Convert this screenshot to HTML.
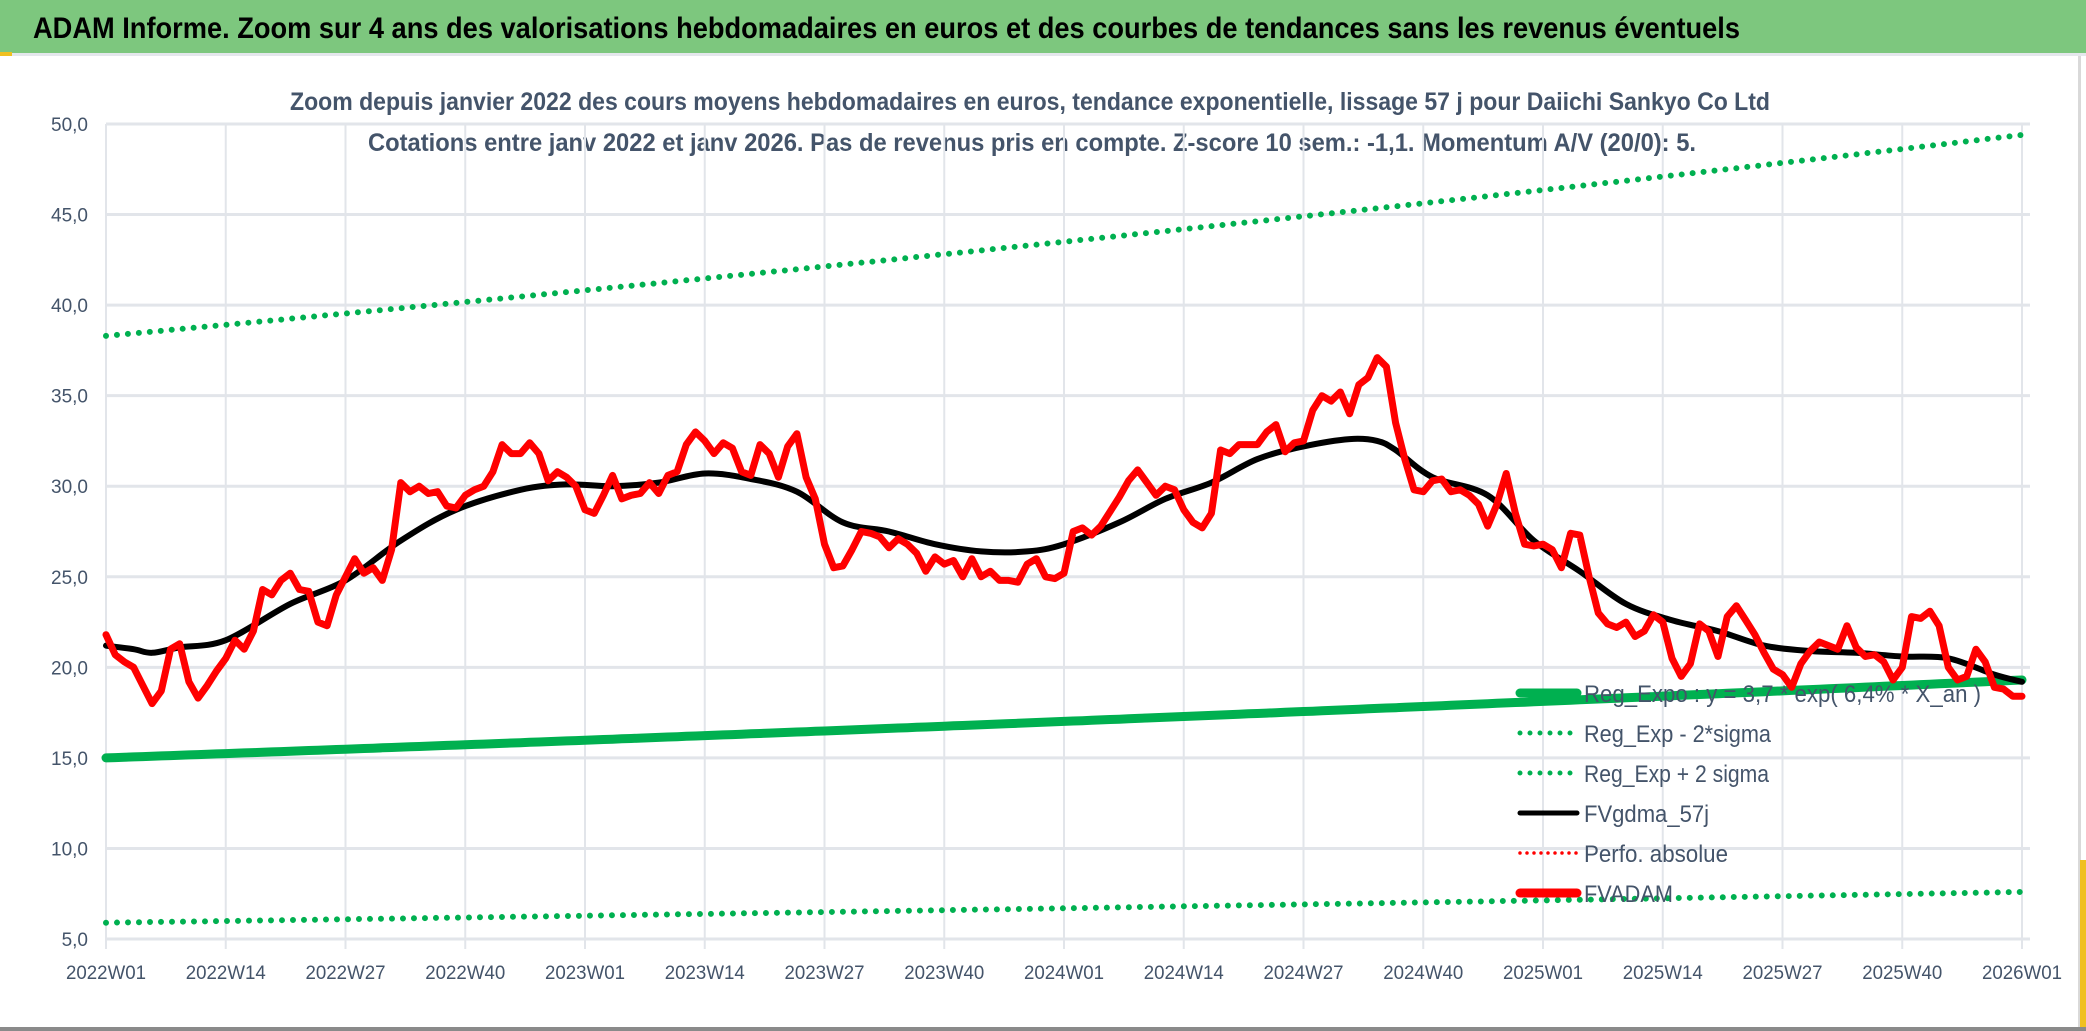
<!DOCTYPE html>
<html><head><meta charset="utf-8"><style>
html,body{margin:0;padding:0;background:#fff;}
svg{display:block;font-family:"Liberation Sans",sans-serif;}
</style></head><body>
<svg id="chart" width="2086" height="1031" viewBox="0 0 2086 1031" xmlns="http://www.w3.org/2000/svg">
<rect x="0" y="0" width="2086" height="53" fill="#7dc77e"/>
<rect x="0" y="53" width="2086" height="3" fill="#e4e7ec"/>
<rect x="0" y="52" width="12" height="4" fill="#f0c020"/>
<text x="33" y="38" font-size="30" font-weight="bold" fill="#000" textLength="1707" lengthAdjust="spacingAndGlyphs">ADAM Informe. Zoom sur 4 ans des valorisations hebdomadaires en euros et des courbes de tendances sans les revenus éventuels</text>
<text x="290" y="110" font-size="25" font-weight="bold" fill="#44546a" textLength="1480" lengthAdjust="spacingAndGlyphs">Zoom depuis janvier 2022 des cours moyens hebdomadaires en euros, tendance exponentielle, lissage 57 j pour Daiichi Sankyo Co Ltd</text>
<text x="368" y="151" font-size="25" font-weight="bold" fill="#44546a" textLength="1328" lengthAdjust="spacingAndGlyphs">Cotations entre janv 2022 et janv 2026. Pas de revenus pris en compte. Z-score 10 sem.: -1,1. Momentum A/V (20/0): 5.</text>
<g id="grid"></g><g id="axes"></g><g id="series"></g><g id="legend"></g>
<rect x="0" y="1027" width="2086" height="4" fill="#8a8a8a"/>
<rect x="2078" y="56" width="3" height="971" fill="#d9d9d9"/>
<rect x="2080" y="860" width="6" height="167" fill="#f0c020"/>
</svg>
<script>
const yTicks=[5,10,15,20,25,30,35,40,45,50];
const yTickLabels=["5,0","10,0","15,0","20,0","25,0","30,0","35,0","40,0","45,0","50,0"];
const xTickWeeks=[0,13,26,39,52,65,78,91,104,117,130,143,156,169,182,195,208];
const xTickLabels=["2022W01","2022W14","2022W27","2022W40","2023W01","2023W14","2023W27","2023W40","2024W01","2024W14","2024W27","2024W40","2025W01","2025W14","2025W27","2025W40","2026W01"];
const fvadam=[21.8,20.7,20.3,20.0,19.0,18.0,18.7,21.0,21.3,19.2,18.3,19.0,19.8,20.5,21.5,21.0,22.0,24.3,24.0,24.8,25.2,24.3,24.2,22.5,22.3,24.0,25.0,26.0,25.2,25.5,24.8,26.5,30.2,29.7,30.0,29.6,29.7,28.9,28.8,29.5,29.8,30.0,30.8,32.3,31.8,31.8,32.4,31.8,30.3,30.8,30.5,30.0,28.7,28.5,29.5,30.6,29.3,29.5,29.6,30.2,29.6,30.6,30.8,32.3,33.0,32.5,31.8,32.4,32.1,30.8,30.6,32.3,31.8,30.5,32.2,32.9,30.5,29.3,26.8,25.5,25.6,26.5,27.5,27.4,27.2,26.6,27.1,26.8,26.3,25.3,26.1,25.7,25.9,25.0,26.0,25.0,25.3,24.8,24.8,24.7,25.7,26.0,25.0,24.9,25.2,27.5,27.7,27.3,27.8,28.6,29.4,30.3,30.9,30.2,29.5,30.0,29.8,28.7,28.0,27.7,28.5,32.0,31.8,32.3,32.3,32.3,33.0,33.4,31.9,32.4,32.5,34.2,35.0,34.7,35.2,34.0,35.6,36.0,37.1,36.6,33.5,31.5,29.8,29.7,30.3,30.4,29.7,29.8,29.5,29.0,27.8,29.0,30.7,28.5,26.8,26.7,26.8,26.5,25.5,27.4,27.3,25.0,23.0,22.4,22.2,22.5,21.7,22.0,22.9,22.5,20.5,19.5,20.2,22.4,22.0,20.6,22.8,23.4,22.6,21.8,20.8,19.9,19.6,18.9,20.2,20.9,21.4,21.2,21.0,22.3,21.1,20.6,20.7,20.3,19.3,20.0,22.8,22.7,23.1,22.3,20.0,19.3,19.5,21.0,20.3,18.9,18.8,18.4,18.4];
const maWeeks=[0,3,5,8,13,20,26,32,38,45,50,55,60,65,70,75,80,85,90,95,100,104,110,115,120,125,130,135,138,140,144,150,155,160,165,170,175,180,185,190,195,200,205,208];
const maValues=[21.2,21.0,20.8,21.1,21.5,23.5,24.8,27.0,28.7,29.8,30.1,30.0,30.2,30.7,30.4,29.7,28.0,27.5,26.8,26.4,26.4,26.8,28.0,29.3,30.2,31.5,32.2,32.6,32.5,32.0,30.5,29.5,27.0,25.3,23.5,22.6,22.0,21.2,20.9,20.8,20.6,20.5,19.6,19.2];
const bandNames=["reg-expo","reg-exp-minus-2sigma","reg-exp-plus-2sigma"];
const bandStart=[15.0,5.9,38.3];
const bandEnd=[19.3,7.6,49.4];
const nWeeks=208;

const NS="http://www.w3.org/2000/svg";
const X0=106,X1=2022,Y50=124,Y5=939;
function xs(w){return X0+(X1-X0)*w/nWeeks;}
function ys(v){return Y5-(v-5)*(Y5-Y50)/45;}
function mk(tag,attrs,parent){const e=document.createElementNS(NS,tag);for(const k in attrs)e.setAttribute(k,attrs[k]);parent.appendChild(e);return e;}
const grid=document.getElementById('grid'),axes=document.getElementById('axes'),series=document.getElementById('series'),legend=document.getElementById('legend');
yTicks.forEach((v,i)=>{
  const l=mk('line',{x1:X0,x2:X1+8,y1:ys(v),y2:ys(v),stroke:'#e2e5ea','stroke-width':3},grid);
  
  
  const t=mk('text',{x:88,y:ys(v)+7,'text-anchor':'end','font-size':19,fill:'#44546a'},axes);
  t.textContent=yTickLabels[i];
  
  
});
xTickWeeks.forEach((w,i)=>{
  const l=mk('line',{x1:xs(w),x2:xs(w),y1:Y50,y2:Y5+10,stroke:'#e2e5ea','stroke-width':2},grid);
  
  
  const t=mk('text',{x:xs(w),y:Y5+40,'text-anchor':'middle','font-size':19,fill:'#44546a',textLength:80,lengthAdjust:'spacingAndGlyphs'},axes);
  t.textContent=xTickLabels[i];
  
  
});
function bandPath(i){let d='';for(let w=0;w<=nWeeks;w++){const v=bandStart[i]*Math.pow(bandEnd[i]/bandStart[i],w/nWeeks);d+=(w?'L':'M')+xs(w).toFixed(1)+' '+ys(v).toFixed(1);}return d;}
bandNames.forEach((n,i)=>{
  const solid=i===0;
  const p=mk('path',{d:bandPath(i),fill:'none',stroke:'#00b050','stroke-width':solid?9:6,'stroke-linecap':'round','stroke-dasharray':solid?'none':'0 11'},series);
  
  
});
function smooth(pts){let d='M'+pts[0][0].toFixed(1)+' '+pts[0][1].toFixed(1);
  for(let i=0;i<pts.length-1;i++){const p0=pts[Math.max(0,i-1)],p1=pts[i],p2=pts[i+1],p3=pts[Math.min(pts.length-1,i+2)];
    const c1x=p1[0]+(p2[0]-p0[0])/6,c1y=p1[1]+(p2[1]-p0[1])/6,c2x=p2[0]-(p3[0]-p1[0])/6,c2y=p2[1]-(p3[1]-p1[1])/6;
    d+='C'+c1x.toFixed(1)+' '+c1y.toFixed(1)+' '+c2x.toFixed(1)+' '+c2y.toFixed(1)+' '+p2[0].toFixed(1)+' '+p2[1].toFixed(1);}
  return d;}
const maPts=maWeeks.map((w,i)=>[xs(w),ys(maValues[i])]);
const ma=mk('path',{d:smooth(maPts),fill:'none',stroke:'#000','stroke-width':6,'stroke-linejoin':'round','stroke-linecap':'round'},series);


let dr='';fvadam.forEach((v,i)=>{dr+=(i?'L':'M')+xs(i).toFixed(1)+' '+ys(v).toFixed(1);});
const red=mk('path',{d:dr,fill:'none',stroke:'#ff0000','stroke-width':7,'stroke-linejoin':'round','stroke-linecap':'round'},series);


const legItems=[["Reg_Expo : y = 3,7 * exp( 6,4% *  X_an )",'#00b050',9,'none',397],["Reg_Exp - 2*sigma",'#00b050',5,'0 10',187],["Reg_Exp + 2 sigma",'#00b050',5,'0 10',185],["FVgdma_57j",'#000',5,'none',125],["Perfo. absolue",'#ff0000',3.5,'0 7',144],["FVADAM",'#ff0000',9,'none',89]];
legItems.forEach((it,i)=>{
  const y=693+i*40;
  const g=mk('g',{},legend);
  
  
  mk('line',{x1:1520,x2:1577,y1:y,y2:y,stroke:it[1],'stroke-width':it[2],'stroke-linecap':'round','stroke-dasharray':it[3]},g);
  const t=mk('text',{x:1584,y:y+9,'font-size':24,fill:'#44546a',textLength:it[4],lengthAdjust:'spacingAndGlyphs'},g);
  t.textContent=it[0];
});
</script>
</body></html>
